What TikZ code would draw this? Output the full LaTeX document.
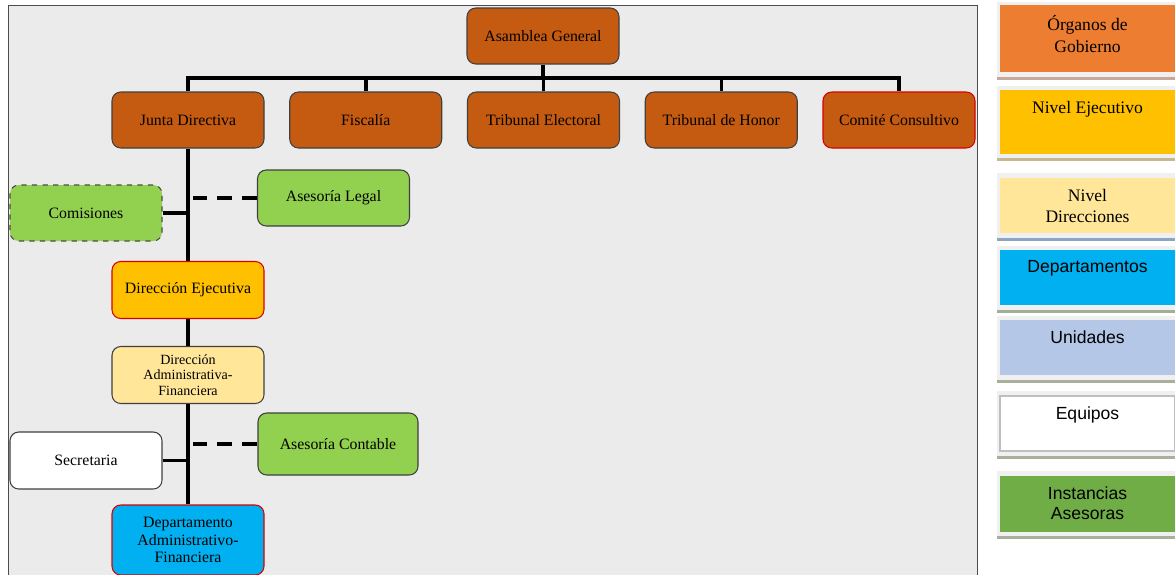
\documentclass[tikz,border=0pt]{standalone}
\usepackage{fontspec}
\setmainfont{Liberation Serif}
\newfontfamily\legsf{Liberation Sans}
\usetikzlibrary{positioning}

\definecolor{fondo}{HTML}{EBEBEB}
\definecolor{organo}{HTML}{C55A11}
\definecolor{gobierno}{HTML}{ED7D31}
\definecolor{ejecutivo}{HTML}{FFC000}
\definecolor{direccion}{HTML}{FFE699}
\definecolor{depto}{HTML}{00B0F0}
\definecolor{unidad}{HTML}{B4C7E7}
\definecolor{asesor}{HTML}{92D050}
\definecolor{instancia}{HTML}{70AD47}
\definecolor{marco}{HTML}{F0F0F0}

\begin{document}
\begin{tikzpicture}[
	box/.style = {draw=black!75, line width=0.6pt, rounded corners=5pt, minimum width=3.04cm, minimum height=1.12cm, align=center, font=\fontsize{9}{10}\selectfont},
	org/.style = {box, fill=organo},
	asesoria/.style = {box, fill=asesor},
	red box/.style = {draw=red!85!black},
	line/.style = {line width=2pt},
	dline/.style = {line width=2pt, dash pattern=on 0.3cm off 0.2cm},
	legbox/.style = {minimum width=3.5cm, inner sep=0pt},
	legtxt/.style = {align=center, font=\fontsize{10}{12}\selectfont},
	legsans/.style = {align=center, font=\legsf\fontsize{10}{11.3}\selectfont}
	]
	\useasboundingbox (0,0) rectangle (23.5,-11.48);
	\draw[draw=black!70, fill=fondo] (0.16,-0.1) rectangle (19.54,-11.7);

	\node[org] (asamblea) at (10.86,-0.72) {Asamblea General};
	\node[org] (junta) at (3.76,-2.4) {Junta Directiva};
	\node[org, right of=junta, node distance=3.555cm] (fiscalia) {Fiscalía};
	\node[org, right of=fiscalia, node distance=3.555cm] (electoral) {Tribunal Electoral};
	\node[org, right of=electoral, node distance=3.555cm] (honor) {Tribunal de Honor};
	\node[org, red box, right of=honor, node distance=3.555cm] (comite) {Comité Consultivo};
	\coordinate (bus) at (0,-1.56);

	\node[asesoria, dashed, draw=black!70] (comisiones) at (1.72,-4.26) {Comisiones};
	\node[asesoria] (legal) at (6.67,-3.96) {Asesoría Legal};
	\node[box, red box, fill=ejecutivo, below of=junta, node distance=3.4cm, minimum height=1.14cm] (direjec) {Dirección Ejecutiva};
	\node[box, fill=direccion, below of=direjec, node distance=1.7cm, minimum height=1.14cm, font=\fontsize{8}{9}\selectfont] (diradmin) {Dirección\\Administrativa-\\Financiera};
	\node[asesoria, minimum width=3.2cm, minimum height=1.24cm] (contable) at (6.76,-8.88) {Asesoría Contable};
	\node[box, fill=white, minimum height=1.14cm] (secretaria) at (1.72,-9.21) {Secretaria};
	\node[box, red box, fill=depto, below of=diradmin, node distance=3.3cm, minimum height=1.4cm] (departamento) {Departamento\\Administrativo-\\Financiera};

	% organos de gobierno
	\draw[line] (asamblea) -- (asamblea |- bus);
	\draw[line] (junta.north) -- (junta.north |- bus) -| (comite.north);
	\draw[line] (fiscalia.north) -- (fiscalia.north |- bus);
	\draw[line] (electoral.north) -- (electoral.north |- bus);
	\draw[line] (honor.north) -- (honor.north |- bus);

	% linea de mando
	\draw[line] (junta) -- (direjec);
	\draw[line] (direjec) -- (diradmin);
	\draw[line] (diradmin) -- (departamento);
	\draw[line] (comisiones.east) -- (comisiones.east -| junta);
	\draw[line] (secretaria.east) -- (secretaria.east -| junta);
	\draw[dline] (legal.west) -- ([xshift=0.1cm]legal.west -| junta);
	\draw[dline] (contable.west) -- ([xshift=0.1cm]contable.west -| junta);

	% leyenda
	\fill[marco] (19.94,-0.04) rectangle (23.5,-1.54);
	\node[legbox, fill=gobierno, minimum height=1.34cm] (lgob) at (21.75,-0.77) {};
	\node[legtxt, below=0.1cm of lgob.north] {Órganos de\\Gobierno};
	\fill[color={rgb,255:red,200;green,168;blue,152}] (19.94,-1.54) rectangle (23.5,-1.6);

	\fill[marco] (19.94,-1.72) rectangle (23.5,-3.16);
	\node[legbox, fill=ejecutivo, minimum height=1.28cm] (lejec) at (21.75,-2.44) {};
	\node[legtxt, below=0.1cm of lejec.north] {Nivel Ejecutivo};
	\fill[color={rgb,255:red,200;green,184;blue,143}] (19.94,-3.16) rectangle (23.5,-3.22);

	\fill[marco] (19.94,-3.46) rectangle (23.5,-4.76);
	\node[legbox, fill=direccion, minimum height=1.1cm] (ldir) at (21.75,-4.11) {};
	\node[legtxt, below=0.1cm of ldir.north] {Nivel\\Direcciones};
	\fill[color={rgb,255:red,143;green,164;blue,190}] (19.94,-4.76) rectangle (23.5,-4.82);

	\fill[marco] (19.94,-4.92) rectangle (23.5,-6.2);
	\node[legbox, fill=depto, minimum height=1.1cm] (ldep) at (21.75,-5.55) {};
	\node[legsans, below=0.1cm of ldep.north] {Departamentos};
	\fill[color={rgb,255:red,162;green,174;blue,152}] (19.94,-6.2) rectangle (23.5,-6.26);

	\fill[marco] (19.94,-6.32) rectangle (23.5,-7.6);
	\node[legbox, fill=unidad, minimum height=1.1cm] (luni) at (21.75,-6.95) {};
	\node[legsans, below=0.1cm of luni.north] {Unidades};
	\fill[color={rgb,255:red,168;green,176;blue,156}] (19.94,-7.6) rectangle (23.5,-7.66);

	\fill[marco] (19.94,-7.82) rectangle (23.5,-9.12);
	\node[legbox, fill=white, draw=black!25, line width=0.8pt, minimum height=1.1cm] (lequ) at (21.75,-8.47) {};
	\node[legsans, below=0.1cm of lequ.north] {Equipos};
	\fill[color={rgb,255:red,168;green,176;blue,156}] (19.94,-9.12) rectangle (23.5,-9.18);

	\fill[marco] (19.94,-9.42) rectangle (23.5,-10.72);
	\node[legbox, fill=instancia, minimum height=1.12cm] (lins) at (21.75,-10.08) {};
	\node[legsans, below=0.1cm of lins.north] {Instancias\\Asesoras};
	\fill[color={rgb,255:red,168;green,176;blue,156}] (19.94,-10.72) rectangle (23.5,-10.78);
\end{tikzpicture}
\end{document}
